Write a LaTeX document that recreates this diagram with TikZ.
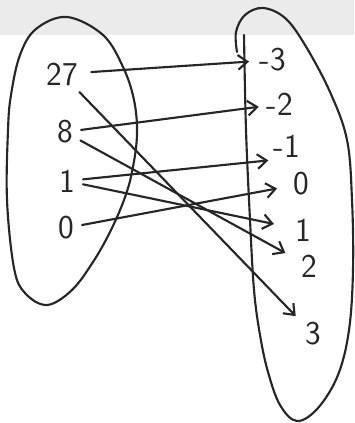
\documentclass[tikz,border=0pt]{standalone}
\usetikzlibrary{arrows.meta}
\tikzset{
  num/.style={font=\fontsize{25}{25}\selectfont\sffamily, inner sep=2pt, text=black!85},
  pen/.style={line width=1.6pt, line cap=round, line join=round, draw=black!85},
  maps/.style={pen, -{Straight Barb[length=7pt, width=11pt]}, shorten <=4pt, shorten >=4pt},
}
\begin{document}
\begin{tikzpicture}[x=0.75pt, y=-0.75pt]
  \useasboundingbox (0,0) rectangle (354,423);
  \fill[black!8] (0,0) rectangle (354,35);

  % domain
  \draw[pen] plot[smooth cycle, tension=0.6] coordinates {(67,17) (103,35) (123,67) (134,100) (137,135) (132,172) (124,200) (110,232) (93,262) (72,290) (47,305) (25,293) (14,268) (7,200) (8,130) (11,95) (20,55) (36,29)};
  % codomain
  \draw[pen] plot[smooth, tension=0.6] coordinates {(244,35) (246,130) (250,220) (254,290) (260,335) (268,372) (280,405) (297,421) (318,408) (338,375) (349,330) (353,270) (352,200) (347,140) (330,92) (305,45) (285,18) (263,8) (245,15) (236,32) (237,52)};

  \node[num] (l27) at (62,74) {27};
  \node[num] (l8) at (65,132) {8};
  \node[num] (l1) at (67,181) {1};
  \node[num] (l0) at (66,228) {0};

  \node[num] (rm3) at (273,60) {-3};
  \node[num] (rm2) at (280,104) {-2};
  \node[num] (rm1) at (287,146) {-1};
  \node[num] (r0) at (301,184) {0};
  \node[num] (r1) at (303,230) {1};
  \node[num] (r2) at (309,266) {2};
  \node[num] (r3) at (313,334) {3};

  \draw[maps, shorten <=8pt, shorten >=6pt] (l27) -- (rm3);
  \draw[maps, shorten >=7pt] (l27) -- (r3);
  \draw[maps] (l8) -- (rm2);
  \draw[maps, shorten >=11pt] (l8) -- (r2);
  \draw[maps, shorten >=2pt] (l1) -- (rm1.south west);
  \draw[maps, shorten >=14pt] (l1) -- (r1);
  \draw[maps, shorten >=10pt] (l0) -- (r0);
\end{tikzpicture}
\end{document}
